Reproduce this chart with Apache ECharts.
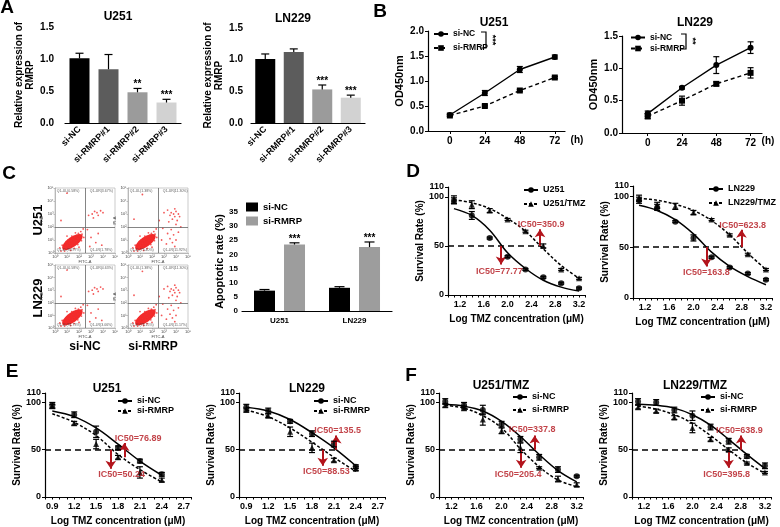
<!DOCTYPE html>
<html lang="en">
<head>
<meta charset="UTF-8">
<title>RMRP knockdown figure</title>
<script src="https://cdn.jsdelivr.net/npm/echarts@6/dist/echarts.min.js"></script>
<style>
    *{margin:0;padding:0}
    html,body{width:100%;height:100%;overflow:hidden;background:#fff}
    .container{width:780px;height:527px}
</style>
</head>
<body>
<div class="container"></div>
<script>
// ---------- A: relative expression of RMRP ----------
const aCats = ['si-NC', 'si-RMRP#1', 'si-RMRP#2', 'si-RMRP#3'];
const aU251 = [1.01, 0.84, 0.48, 0.32];
const aU251Err = [0.08, 0.23, 0.06, 0.05];
const aU251Sig = ['', '', '**', '***'];
const aLN229 = [1.01, 1.12, 0.53, 0.40];
const aLN229Err = [0.08, 0.05, 0.07, 0.04];
const aLN229Sig = ['', '', '***', '***'];

// ---------- B: CCK-8 growth ----------
const bHours = [0, 24, 48, 72];
const bU251NC = [0.32, 0.76, 1.23, 1.48];
const bU251NCErr = [0.02, 0.05, 0.06, 0.04];
const bU251RM = [0.31, 0.50, 0.81, 1.07];
const bU251RMErr = [0.02, 0.02, 0.02, 0.02];
const bLN229NC = [0.30, 0.70, 1.05, 1.32];
const bLN229NCErr = [0.04, 0.02, 0.13, 0.09];
const bLN229RM = [0.26, 0.50, 0.76, 0.93];
const bLN229RMErr = [0.04, 0.07, 0.03, 0.08];

// ---------- C: apoptosis ----------
const cCells = ['U251', 'LN229'];
const cNC = [7.2, 8.2];
const cNCErr = [0.4, 0.4];
const cRM = [23.5, 22.6];
const cRMErr = [0.6, 1.8];
const cRMSig = ['***', '***'];
// flow cytometry dot plots (log decades of FITC-A / PI-A)
const flowCore = [1.45, 0.85];
const flowDots = [[0.5,0.15],[0.7,0.3],[0.8,0.15],[0.9,0.45],[1.0,0.3],[1.05,0.6],[1.15,0.4],[1.2,0.75],[1.3,0.55],
    [1.35,0.95],[1.45,0.7],[1.5,1.05],[1.6,0.85],[1.65,1.2],[1.75,0.95],[1.8,1.35],[1.9,1.1],[1.95,1.5],[2.05,1.3],
    [2.15,1.65],[2.25,1.45],[0.9,0.8],[1.1,1.0],[1.4,1.3],[1.7,1.55],[1.3,0.2],[1.6,0.35],[1.9,0.65],[2.2,0.95],
    [2.4,1.2],[0.6,0.6],[0.4,0.4],[2.35,1.85],[1.0,1.3],[2.0,0.45]];
const flowNCExtra = [[3.1,3.0],[3.3,3.2],[3.5,3.1],[3.8,3.25],[3.6,2.9],[4.0,3.1],[3.2,2.7],[2.8,2.9],[3.4,0.8],
    [3.0,1.2],[2.9,0.5],[3.6,1.5],[2.7,1.8],[3.9,0.6],[0.5,2.5],[1.0,4.6]];
const flowRMExtra = [[3.6,3.1],[3.8,3.0],[4.0,3.2],[3.9,2.8],[4.2,3.0],[3.7,2.6],[4.1,2.5],[3.5,2.9],[3.3,3.3],
    [4.3,2.8],[3.9,3.4],[3.4,2.4],[3.0,3.1],[4.0,2.2],[3.6,1.8],[3.8,1.4],[4.0,1.0],[3.5,1.1],[3.2,0.7],[3.9,0.5],
    [4.2,1.6],[3.3,1.5],[2.9,1.9],[2.8,1.0],[3.7,0.8],[4.4,2.0],[2.6,2.5],[0.5,2.6],[1.2,4.5]];
const flowQuadU251NC = ['Q1-UL(0.58%)', 'Q1-UR(3.67%)', 'Q1-LL(93.97%)', 'Q1-LR(1.78%)'];
const flowQuadU251RM = ['Q1-UL(1.38%)', 'Q1-UR(11.30%)', 'Q1-LL(75.40%)', 'Q1-LR(11.92%)'];
const flowQuadLN229NC = ['Q1-UL(0.58%)', 'Q1-UR(4.63%)', 'Q1-LL(91.73%)', 'Q1-LR(3.06%)'];
const flowQuadLN229RM = ['Q1-UL(1.38%)', 'Q1-UR(11.30%)', 'Q1-LL(76.15%)', 'Q1-LR(11.17%)'];

// ---------- D: U251 vs U251/TMZ, LN229 vs LN229/TMZ ----------
const dDose = [1.1, 1.4, 1.7, 2.0, 2.3, 2.6, 2.9, 3.2];
const dU251 = [96, 81, 58, 39, 26, 18, 12, 7];
const dU251Err = [3, 4, 1, 1, 1, 1, 1, 1];
const dU251Tmz = [97, 92, 86, 77, 65, 50, 26, 17];
const dU251TmzErr = [4, 4, 2, 1, 1, 2, 1, 1];
const dU251Fit = [[1.1,88],[1.4,81],[1.7,66],[2.0,43],[2.3,27],[2.6,15],[2.9,8],[3.2,4]];
const dU251TmzFit = [[1.1,97],[1.4,94],[1.7,88],[2.0,78],[2.3,65],[2.6,47],[2.9,30],[3.2,17]];
const dU251IC50 = [77.77, 350.9];
const dLN229 = [96, 89, 75, 59, 40, 30, 24, 18];
const dLN229Err = [3, 3, 1, 3, 1, 1, 1, 1];
const dLN229Tmz = [98, 91, 90, 84, 77, 62, 43, 28];
const dLN229TmzErr = [3, 3, 3, 2, 1, 1, 1, 1];
const dLN229Fit = [[1.1,91],[1.4,86],[1.7,77],[2.0,63],[2.3,45],[2.6,31],[2.9,21],[3.2,13]];
const dLN229TmzFit = [[1.1,98],[1.4,96],[1.7,92],[2.0,86],[2.3,76],[2.6,62],[2.9,44],[3.2,28]];
const dLN229IC50 = [163.8, 623.8];

// ---------- E: si-NC vs si-RMRP (parental) ----------
const eDose = [0.9, 1.2, 1.5, 1.8, 2.1, 2.4];
const eU251NC = [97, 87, 69, 52, 38, 24];
const eU251NCErr = [3, 3, 6, 2, 2, 2];
const eU251RM = [96, 78, 56, 42, 26, 18];
const eU251RMErr = [2, 2, 5, 2, 6, 2];
const eU251NCFit = [[0.9,91],[1.2,85],[1.5,73],[1.8,56],[2.1,38],[2.4,23]];
const eU251RMFit = [[0.9,88],[1.2,79],[1.5,65],[1.8,45],[2.1,29],[2.4,16]];
const eU251IC50 = [50.24, 76.89];
const eLN229NC = [95, 91, 80, 67, 56, 32];
const eLN229NCErr = [3, 3, 2, 3, 3, 2];
const eLN229RM = [92, 86, 69, 52, 39, 30];
const eLN229RMErr = [2, 2, 5, 5, 2, 2];
const eLN229NCFit = [[0.9,95],[1.2,91],[1.5,82],[1.8,68],[2.1,52],[2.4,33]];
const eLN229RMFit = [[0.9,92],[1.2,85],[1.5,73],[1.8,58],[2.1,42],[2.4,27]];
const eLN229IC50 = [88.53, 135.5];

// ---------- F: si-NC vs si-RMRP (TMZ resistant) ----------
const fDose = [1.1, 1.4, 1.7, 2.0, 2.3, 2.6, 2.9, 3.2];
const fU251NC = [101, 97, 92, 77, 61, 42, 29, 22];
const fU251NCErr = [3, 3, 5, 3, 3, 3, 3, 1];
const fU251RM = [97, 94, 82, 70, 52, 31, 19, 13];
const fU251RMErr = [2, 2, 6, 3, 5, 1, 3, 2];
const fU251NCFit = [[1.1,98],[1.4,96],[1.7,91],[2.0,80],[2.3,64],[2.6,45],[2.9,28],[3.2,16]];
const fU251RMFit = [[1.1,97],[1.4,94],[1.7,86],[2.0,73],[2.3,51],[2.6,32],[2.9,18],[3.2,11]];
const fU251IC50 = [205.4, 337.8];
const fLN229NC = [101, 100, 92, 86, 74, 59, 43, 33];
const fLN229NCErr = [3, 3, 3, 5, 3, 3, 2, 3];
const fLN229RM = [95, 91, 84, 73, 61, 50, 36, 26];
const fLN229RMErr = [2, 2, 2, 5, 2, 2, 1, 1];
const fLN229NCFit = [[1.1,98],[1.4,97],[1.7,94],[2.0,87],[2.3,76],[2.6,61],[2.9,45],[3.2,30]];
const fLN229RMFit = [[1.1,96],[1.4,93],[1.7,87],[2.0,78],[2.3,65],[2.6,50],[2.9,36],[3.2,25]];
const fLN229IC50 = [395.8, 638.9];

const dLabels = [1.2, 1.6, 2.0, 2.4, 2.8, 3.2];
const eLabels = [0.9, 1.2, 1.5, 1.8, 2.1, 2.4, 2.7];

// ================= building the option =================
const FONT = 'Liberation Sans';
const RED = '#b3141c';
let grids = [], xAxes = [], yAxes = [], series = [], legends = [], graphics = [];

function merge(a, b) {
    const out = Object.assign({}, a);
    for (const k in b) {
        if (b[k] && typeof b[k] === 'object' && !Array.isArray(b[k]) && a[k] && typeof a[k] === 'object') out[k] = merge(a[k], b[k]);
        else out[k] = b[k];
    }
    return out;
}
const axisBase = {
    axisLine: {onZero: false, lineStyle: {color: '#000', width: 1.2}},
    axisTick: {length: 3, lineStyle: {color: '#000', width: 1}},
    splitLine: {show: false},
    axisLabel: {color: '#000', fontSize: 9, fontWeight: 'bold', fontFamily: FONT, margin: 4},
    nameTextStyle: {color: '#000', fontSize: 10, fontWeight: 'bold', fontFamily: FONT}
};
function addGrid(g, xa, ya) {
    const i = grids.length;
    grids.push(g);
    xAxes.push(merge(merge(axisBase, {gridIndex: i}), xa));
    yAxes.push(merge(merge(axisBase, {gridIndex: i}), ya));
    return i;
}
function errorBars(gi, pts, o) {
    o = o || {};
    series.push({
        type: 'custom', xAxisIndex: gi, yAxisIndex: gi, z: 6, silent: true, data: pts,
        renderItem: function (params, api) {
            const x = api.value(0), y = api.value(1), e = api.value(2);
            const cap = o.cap || 3, dx = o.dx || 0;
            const base = api.coord([x, y]);
            const top = api.coord([x, y + e])[1];
            const bot = o.upOnly ? base[1] : api.coord([x, y - e])[1];
            const cx = base[0] + dx;
            const st = {stroke: '#000', lineWidth: 1.2};
            const ch = [
                {type: 'line', shape: {x1: cx, y1: top, x2: cx, y2: bot}, style: st},
                {type: 'line', shape: {x1: cx - cap, y1: top, x2: cx + cap, y2: top}, style: st}
            ];
            if (!o.upOnly) ch.push({type: 'line', shape: {x1: cx - cap, y1: bot, x2: cx + cap, y2: bot}, style: st});
            const s = o.sig && o.sig[params.dataIndex];
            if (s) ch.push({type: 'text', x: cx, y: top + 1, style: {text: s, align: 'center', verticalAlign: 'bottom',
                fontSize: o.sigSize || 11, fontWeight: 'bold', fontFamily: FONT, fill: '#000'}});
            return {type: 'group', children: ch};
        }
    });
}
function addLegend(names, left, top, gap, extra) {
    legends.push(merge({
        data: names, orient: 'vertical', left: left, top: top, itemGap: gap, itemWidth: 14, itemHeight: 7,
        selectedMode: false, padding: 0, formatter: n => n.split('|')[0],
        textStyle: {fontSize: 9, fontWeight: 'bold', fontFamily: FONT, color: '#000', lineHeight: 12}
    }, extra || {}));
}
function text(str, x, y, size, extra) {
    graphics.push({type: 'text', x: x, y: y, silent: true, rotation: (extra && extra.rotation) || 0,
        style: {text: str, fontSize: size, fontWeight: 'bold', fontFamily: FONT, fill: '#000', align: 'center', verticalAlign: 'middle'}});
}

// ----- A -----
function expressionPanel(box, offset, vals, errs, sig) {
    const gi = addGrid(box,
        {type: 'category', data: aCats, axisTick: {alignWithLabel: true, length: 3}, axisLabel: {rotate: 45, fontSize: 9, margin: 5}},
        {type: 'value', min: 0, max: 1.5, interval: 0.5, offset: offset, name: 'Relative expression of\nRMRP', nameLocation: 'middle',
            nameGap: 20, nameTextStyle: {lineHeight: 11}, axisLabel: {fontSize: 10, formatter: v => v.toFixed(1)}});
    const colors = ['#000000', '#5c5c5c', '#9b9b9b', '#d2d2d2'];
    series.push({type: 'bar', xAxisIndex: gi, yAxisIndex: gi, barWidth: 20, silent: true,
        data: vals.map((v, i) => ({value: v, itemStyle: {color: colors[i]}}))});
    errorBars(gi, vals.map((v, i) => [i, v, errs[i]]), {upOnly: true, cap: 4, sig: sig, sigSize: 10});
}
expressionPanel({left: 65, top: 27, width: 116, height: 96}, 7, aU251, aU251Err, aU251Sig);
expressionPanel({left: 251, top: 28, width: 114, height: 95}, 4, aLN229, aLN229Err, aLN229Sig);

// ----- B -----
function growthPanel(box, xr, ymax, nc, ncErr, rm, rmErr, tag) {
    const gi = addGrid(box,
        {type: 'value', min: xr[0], max: xr[1], axisTick: {customValues: bHours}, axisLabel: {customValues: bHours, fontSize: 10, margin: 5}},
        {type: 'value', min: 0, max: ymax, interval: 0.5, name: 'OD450nm', nameLocation: 'middle', nameGap: 23,
            nameTextStyle: {fontSize: 11}, axisLabel: {fontSize: 10, formatter: v => v.toFixed(1)}});
    series.push({name: 'si-NC|' + tag, type: 'line', xAxisIndex: gi, yAxisIndex: gi, data: bHours.map((h, i) => [h, nc[i]]),
        symbol: 'circle', symbolSize: 6, itemStyle: {color: '#000'}, lineStyle: {color: '#000', width: 1.4}});
    series.push({name: 'si-RMRP|' + tag, type: 'line', xAxisIndex: gi, yAxisIndex: gi, data: bHours.map((h, i) => [h, rm[i]]),
        symbol: 'rect', symbolSize: 6, itemStyle: {color: '#000'}, lineStyle: {color: '#000', width: 1.4, type: [4, 3]}});
    errorBars(gi, bHours.map((h, i) => [h, nc[i], ncErr[i]]), {cap: 3});
    errorBars(gi, bHours.map((h, i) => [h, rm[i], rmErr[i]]), {cap: 3});
}
growthPanel({left: 428, top: 31, width: 137, height: 100}, [-15, 79], 2, bU251NC, bU251NCErr, bU251RM, bU251RMErr, 'B1');
growthPanel({left: 622, top: 36, width: 140, height: 97}, [-18, 80], 1.5, bLN229NC, bLN229NCErr, bLN229RM, bLN229RMErr, 'B2');
addLegend(['si-NC|B1', 'si-RMRP|B1'], 433, 28, 2, {textStyle: {fontSize: 8.5}});
addLegend(['si-NC|B2', 'si-RMRP|B2'], 630, 32, 0, {textStyle: {fontSize: 8.5, lineHeight: 11}});

// ----- C flow plots -----
const sup = ['⁰', '¹', '²', '³', '⁴', '⁵'];
function flowPlot(box, extra, quad) {
    const tiny = {fontSize: 4, fontWeight: 'normal', color: '#444'};
    const thin = {lineStyle: {color: '#999', width: 0.6}};
    const gi = addGrid(merge(box, {show: true, borderColor: '#aaa', borderWidth: 0.6}),
        {type: 'value', min: 0, max: 5, interval: 1, name: 'FITC-A', nameLocation: 'middle', nameGap: 7, nameTextStyle: tiny,
            axisLine: thin, axisTick: merge(thin, {length: 1.5}), axisLabel: merge(tiny, {margin: 1.5, formatter: v => '10' + sup[v]})},
        {type: 'value', min: 0, max: 5, interval: 1, name: 'PI-A', nameLocation: 'middle', nameGap: 7, nameTextStyle: tiny,
            axisLine: thin, axisTick: merge(thin, {length: 1.5}), axisLabel: merge(tiny, {margin: 1.5, formatter: v => '10' + sup[v]})});
    series.push({type: 'scatter', xAxisIndex: gi, yAxisIndex: gi, silent: true, data: [flowCore], symbol: 'circle',
        symbolSize: [24, 10], symbolRotate: 35, itemStyle: {color: '#f21818', opacity: 0.92}});
    series.push({type: 'scatter', xAxisIndex: gi, yAxisIndex: gi, silent: true, data: flowDots.concat(extra), symbolSize: 1.8,
        itemStyle: {color: '#f03030'},
        markLine: {silent: true, symbol: 'none', label: {show: false}, lineStyle: {color: '#666', width: 0.8, type: 'solid'},
            data: [{xAxis: 2.5}, {yAxis: 2}]}});
    series.push({type: 'scatter', xAxisIndex: gi, yAxisIndex: gi, silent: true, symbolSize: 0,
        data: [{value: [0.15, 4.75], name: quad[0]}, {value: [2.9, 4.75], name: quad[1]},
               {value: [0.15, 0.2], name: quad[2]}, {value: [2.9, 0.2], name: quad[3]}],
        label: {show: true, position: 'right', distance: 0, formatter: '{b}', fontSize: 3.5, color: '#333'}});
}
flowPlot({left: 55, top: 188, width: 60, height: 65}, flowNCExtra, flowQuadU251NC);
flowPlot({left: 128, top: 188, width: 60, height: 65}, flowRMExtra, flowQuadU251RM);
flowPlot({left: 55, top: 265, width: 60, height: 63}, flowNCExtra, flowQuadLN229NC);
flowPlot({left: 128, top: 265, width: 60, height: 63}, flowRMExtra, flowQuadLN229RM);

// ----- C apoptosis bars -----
const gC = addGrid({left: 242, top: 212, width: 150, height: 99},
    {type: 'category', data: cCells, axisTick: {show: false}, axisLabel: {fontSize: 8, margin: 6}},
    {type: 'value', min: 0, max: 35, interval: 5, name: 'Apoptotic rate (%)', nameLocation: 'middle', nameGap: 16,
        nameTextStyle: {fontSize: 11}, axisLabel: {fontSize: 8}});
series.push({name: 'si-NC|C', type: 'bar', xAxisIndex: gC, yAxisIndex: gC, barWidth: 21, barGap: '43%', data: cNC, itemStyle: {color: '#000'}, silent: true});
series.push({name: 'si-RMRP|C', type: 'bar', xAxisIndex: gC, yAxisIndex: gC, barWidth: 21, barGap: '43%', data: cRM, itemStyle: {color: '#9d9d9d'}, silent: true});
errorBars(gC, cNC.map((v, i) => [i, v, cNCErr[i]]), {upOnly: true, dx: -15, cap: 5});
errorBars(gC, cRM.map((v, i) => [i, v, cRMErr[i]]), {upOnly: true, dx: 15, cap: 5, sig: cRMSig, sigSize: 10});
addLegend(['si-NC|C', 'si-RMRP|C'], 246, 201, 2, {icon: 'rect', itemWidth: 12, itemHeight: 9, textStyle: {fontSize: 9.5}});

// ----- D / E / F dose-response -----
function dosePanel(p) {
    const gi = addGrid(p.box,
        {type: 'value', min: p.xr[0], max: p.xr[1], interval: 0.1, name: 'Log TMZ concentration (μM)', nameLocation: 'middle', nameGap: 19,
            axisTick: {length: 2.5}, axisLabel: {customValues: p.labels, formatter: v => v.toFixed(1), margin: 5}},
        {type: 'value', min: 0, max: 110, interval: 50, name: 'Survival Rate (%)', nameLocation: 'middle', nameGap: 17,
            nameTextStyle: {fontSize: 10}});
    const syms = ['circle', 'triangle'];
    p.names.forEach((n, k) => {
        series.push({name: n, type: 'line', xAxisIndex: gi, yAxisIndex: gi, data: p.fits[k], smooth: 0.35,
            showSymbol: false, symbol: syms[k], symbolSize: 7, itemStyle: {color: '#000'}, z: 3, silent: true,
            lineStyle: {color: '#000', width: 1.5, type: k ? [3, 2] : 'solid'}});
        series.push({type: 'scatter', xAxisIndex: gi, yAxisIndex: gi, silent: true, data: p.dose.map((d, i) => [d, p.ys[k][i]]),
            symbol: syms[k], symbolSize: 6, itemStyle: {color: '#000'}, z: 4});
        errorBars(gi, p.dose.map((d, i) => [d, p.ys[k][i], p.errs[k][i]]), {cap: 3});
    });
    const lo = Math.log10(p.ic50[0]), hi = Math.log10(p.ic50[1]);
    series.push({type: 'scatter', xAxisIndex: gi, yAxisIndex: gi, silent: true, symbolSize: 0, z: 7,
        data: [{name: 'IC50=' + p.ic50[0], value: [lo + p.loLabel[0], p.loLabel[1]]},
               {name: 'IC50=' + p.ic50[1], value: [hi + p.hiLabel[0], p.hiLabel[1]]}],
        label: {show: true, position: 'inside', formatter: '{b}', color: RED, fontSize: 9, fontWeight: 'bold', fontFamily: FONT},
        markLine: {silent: true, symbol: 'none', label: {show: false}, data: [
            [{coord: [p.xr[0], 50], lineStyle: {color: '#000', width: 1.6, type: [6, 4]}}, {coord: [hi + 0.02, 50]}],
            [{coord: [lo, p.down[0]], lineStyle: {color: RED, width: 2, type: 'solid'}}, {coord: [lo, p.down[1]], symbol: 'arrow', symbolSize: 8}],
            [{coord: [hi, p.up[0]], lineStyle: {color: RED, width: 2, type: 'solid'}}, {coord: [hi, p.up[1]], symbol: 'arrow', symbolSize: 8}]
        ]}});
    addLegend(p.names, p.legend[0], p.legend[1], p.legend[2], p.legend[3]);
}
dosePanel({box: {left: 448, top: 187, width: 137, height: 108}, xr: [1.0, 3.3], labels: dLabels, dose: dDose,
    names: ['U251|D1', 'U251/TMZ|D1'], ys: [dU251, dU251Tmz], errs: [dU251Err, dU251TmzErr], fits: [dU251Fit, dU251TmzFit],
    ic50: dU251IC50, down: [50, 31], up: [50, 67], loLabel: [-0.03, 24], hiLabel: [0.02, 72], legend: [523, 184, 2]});
dosePanel({box: {left: 633, top: 186, width: 139, height: 112}, xr: [1.0, 3.3], labels: dLabels, dose: dDose,
    names: ['LN229|D2', 'LN229/TMZ|D2'], ys: [dLN229, dLN229Tmz], errs: [dLN229Err, dLN229TmzErr], fits: [dLN229Fit, dLN229TmzFit],
    ic50: dLN229IC50, down: [50, 31], up: [50, 67], loLabel: [0.0, 25], hiLabel: [0.02, 71], legend: [708, 183, 2]});
dosePanel({box: {left: 45, top: 393, width: 146, height: 107}, xr: [0.8, 2.8], labels: eLabels, dose: eDose,
    names: ['si-NC|E1', 'si-RMRP|E1'], ys: [eU251NC, eU251RM], errs: [eU251NCErr, eU251RMErr], fits: [eU251NCFit, eU251RMFit],
    ic50: eU251IC50, down: [50, 30], up: [42, 57], loLabel: [0.15, 24], hiLabel: [0.19, 62], legend: [117, 396, 0, {textStyle: {lineHeight: 10}}]});
dosePanel({box: {left: 239, top: 393, width: 146, height: 108}, xr: [0.8, 2.8], labels: eLabels, dose: eDose,
    names: ['si-NC|E2', 'si-RMRP|E2'], ys: [eLN229NC, eLN229RM], errs: [eLN229NCErr, eLN229RMErr], fits: [eLN229NCFit, eLN229RMFit],
    ic50: eLN229IC50, down: [50, 33], up: [50, 65], loLabel: [0.05, 27], hiLabel: [0.02, 70], legend: [313, 396, 0, {textStyle: {lineHeight: 10}}]});
dosePanel({box: {left: 439, top: 393, width: 144, height: 108}, xr: [1.0, 3.3], labels: dLabels, dose: fDose,
    names: ['si-NC|F1', 'si-RMRP|F1'], ys: [fU251NC, fU251RM], errs: [fU251NCErr, fU251RMErr], fits: [fU251NCFit, fU251RMFit],
    ic50: fU251IC50, down: [50, 31], up: [50, 65], loLabel: [-0.05, 24], hiLabel: [-0.04, 71], legend: [512, 391, 1]});
dosePanel({box: {left: 632, top: 393, width: 139, height: 108}, xr: [1.0, 3.3], labels: dLabels, dose: fDose,
    names: ['si-NC|F2', 'si-RMRP|F2'], ys: [fLN229NC, fLN229RM], errs: [fLN229NCErr, fLN229RMErr], fits: [fLN229NCFit, fLN229RMFit],
    ic50: fLN229IC50, down: [50, 31], up: [50, 65], loLabel: [-0.03, 24], hiLabel: [-0.03, 70], legend: [700, 391, 1]});

// ----- panel letters, titles, annotations -----
[['A', 7, 8], ['B', 380, 12], ['C', 9, 174], ['D', 413, 172], ['E', 12, 372], ['F', 411, 376]]
    .forEach(l => text(l[0], l[1], l[2], 19));
[['U251', 118, 17], ['LN229', 293, 19], ['U251', 494, 23], ['LN229', 695, 23],
 ['U251', 107, 389], ['LN229', 307, 389], ['U251/TMZ', 501, 386], ['LN229/TMZ', 695, 386]]
    .forEach(t => text(t[0], t[1], t[2], 12));
text('U251', 38, 220, 13, {rotation: Math.PI / 2});
text('LN229', 38, 298, 13, {rotation: Math.PI / 2});
text('si-NC', 85, 347, 12);
text('si-RMRP', 153, 347, 12);
text('(h)', 577, 140, 10);
text('(h)', 768, 141, 10);
graphics.push({type: 'polyline', silent: true, shape: {points: [[481, 32], [486, 32], [486, 48], [481, 48]]}, style: {stroke: '#000', lineWidth: 1.2, fill: null}});
graphics.push({type: 'polyline', silent: true, shape: {points: [[681, 34], [686, 34], [686, 49], [681, 49]]}, style: {stroke: '#000', lineWidth: 1.2, fill: null}});
text('***', 492, 40, 9, {rotation: -Math.PI / 2});
text('**', 692, 41, 9, {rotation: -Math.PI / 2});

let mycharts = echarts.init(document.querySelector('.container'));
mycharts.setOption({
    animation: false,
    backgroundColor: '#fff',
    textStyle: {fontFamily: FONT},
    grid: grids,
    xAxis: xAxes,
    yAxis: yAxes,
    legend: legends,
    series: series,
    graphic: graphics
});
</script>
</body>
</html>
